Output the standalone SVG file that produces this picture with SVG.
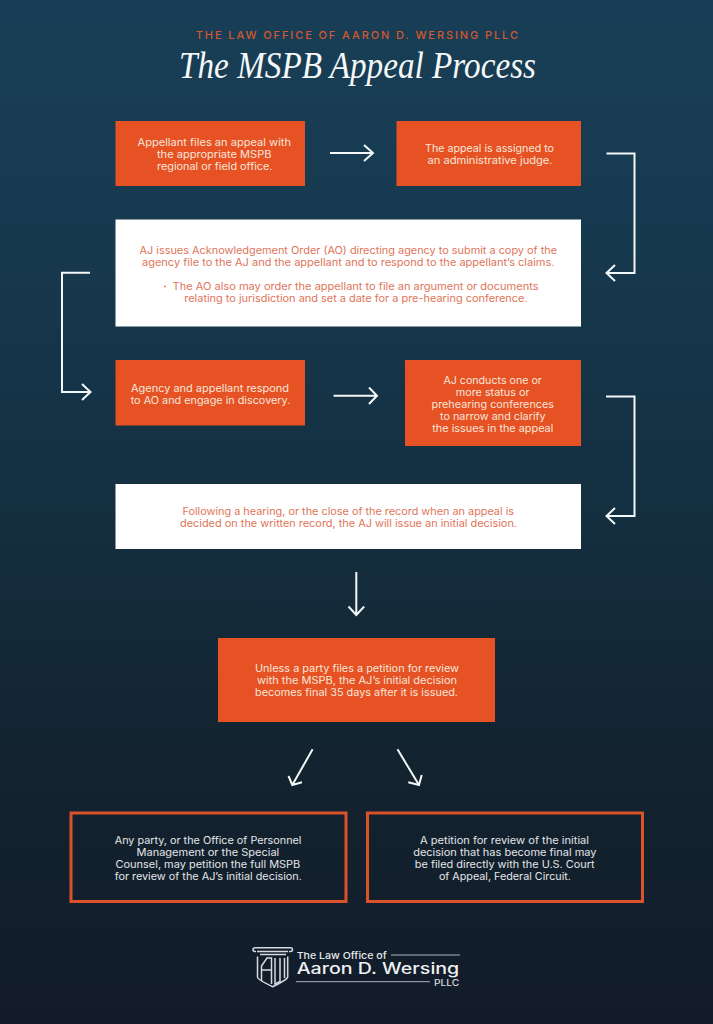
<svg xmlns="http://www.w3.org/2000/svg" width="713" height="1024" viewBox="0 0 713 1024">
<style>
text{font-family:"Inter","Liberation Sans",sans-serif;font-size:10.4px}
.l{fill:#f7e6dc}.o{fill:#e0745a}.d{fill:#e3e6e8}
.or{fill:#e65223}.wh{fill:#fff}.ol{fill:none;stroke:#d9522a;stroke-width:3}
.c{fill:none;stroke:#f4f7f8;stroke-width:2}
.g{fill:none;stroke:#d5dade;stroke-width:1.5}
</style>
<defs>
<linearGradient id="bg" x1="0" y1="0" x2="0" y2="1">
<stop offset="0" stop-color="#183f57"/><stop offset=".2" stop-color="#173a50"/><stop offset=".5" stop-color="#142f40"/><stop offset=".75" stop-color="#13232f"/><stop offset="1" stop-color="#121b29"/>
</linearGradient>
</defs>
<rect width="713" height="1024" fill="url(#bg)"/>
<g id="header">
<text x="195.7" y="38.5" textLength="322.3" lengthAdjust="spacing" style="font-size:11px;font-weight:500;fill:#d4572f">THE LAW OFFICE OF AARON D. WERSING PLLC</text>
<text x="179" y="77.5" textLength="357" lengthAdjust="spacingAndGlyphs" style="font-family:'Liberation Serif',serif;font-style:italic;font-size:37px;fill:#f6f8f8">The MSPB Appeal Process</text>
</g>
<g id="connectors">
<path class="c" d="M330 153H373M364 145L373 153L364 161"/>
<path class="c" d="M606.5 153.5H634.5V273H606.5M615 265L606.5 273L615 281"/>
<path class="c" d="M90 272.7H62V392H90.5M82 384L90.5 392L82 400"/>
<path class="c" d="M333.6 395.7H377M369 387.5L377 395.7L369 404"/>
<path class="c" d="M606 396.5H634.5V516H606.5M615 508L606.5 516L615 524"/>
<path class="c" d="M356.3 572V615M348.5 606.5L356.3 615L364.2 606.5"/>
<path class="c" d="M312.6 749.3L292.3 785M288.5 776L292.3 785L302 782.3"/>
<path class="c" d="M397.5 749.3L419 785M408.3 782.3L419 785L421.7 775"/>
</g>
<g id="n1"><rect class="or" x="115.5" y="121" width="189.5" height="65"/>
<text class="l" x="137.5" y="146" textLength="153.5" lengthAdjust="spacingAndGlyphs">Appellant files an appeal with</text>
<text class="l" x="157" y="158" textLength="114.5" lengthAdjust="spacingAndGlyphs">the appropriate MSPB</text>
<text class="l" x="157" y="170" textLength="115.5" lengthAdjust="spacingAndGlyphs">regional or field office.</text></g>
<g id="n2"><rect class="or" x="396.5" y="121" width="184.5" height="65"/>
<text class="l" x="425" y="152" textLength="129" lengthAdjust="spacingAndGlyphs">The appeal is assigned to</text>
<text class="l" x="427.5" y="164" textLength="125" lengthAdjust="spacingAndGlyphs">an administrative judge.</text></g>
<g id="n3"><rect class="wh" x="115.5" y="219.5" width="465.5" height="107"/>
<text class="o" x="139.5" y="254" textLength="417.5" lengthAdjust="spacingAndGlyphs">AJ issues Acknowledgement Order (AO) directing agency to submit a copy of the</text>
<text class="o" x="142" y="266" textLength="412.5" lengthAdjust="spacingAndGlyphs">agency file to the AJ and the appellant and to respond to the appellant’s claims.</text>
<circle cx="165" cy="286.5" r="0.9" fill="#e0745a"/>
<text class="o" x="172.5" y="290" textLength="366" lengthAdjust="spacingAndGlyphs">The AO also may order the appellant to file an argument or documents</text>
<text class="o" x="184.3" y="302" textLength="343.3" lengthAdjust="spacingAndGlyphs">relating to jurisdiction and set a date for a pre-hearing conference.</text></g>
<g id="n4"><rect class="or" x="115.5" y="360" width="189.5" height="65.5"/>
<text class="l" x="131" y="392" textLength="158" lengthAdjust="spacingAndGlyphs">Agency and appellant respond</text>
<text class="l" x="130.7" y="404" textLength="159.6" lengthAdjust="spacingAndGlyphs">to AO and engage in discovery.</text></g>
<g id="n5"><rect class="or" x="405" y="360" width="176" height="86"/>
<text class="l" x="443.4" y="383.5" textLength="98.4" lengthAdjust="spacingAndGlyphs">AJ conducts one or</text>
<text class="l" x="455.7" y="395.5" textLength="73.8" lengthAdjust="spacingAndGlyphs">more status or</text>
<text class="l" x="431.5" y="407.5" textLength="122.5" lengthAdjust="spacingAndGlyphs">prehearing conferences</text>
<text class="l" x="440" y="419.5" textLength="105.6" lengthAdjust="spacingAndGlyphs">to narrow and clarify</text>
<text class="l" x="432.3" y="431.5" textLength="121" lengthAdjust="spacingAndGlyphs">the issues in the appeal</text></g>
<g id="n6"><rect class="wh" x="115.5" y="484" width="465.5" height="65"/>
<text class="o" x="182.5" y="515.3" textLength="331.5" lengthAdjust="spacingAndGlyphs">Following a hearing, or the close of the record when an appeal is</text>
<text class="o" x="180" y="527.3" textLength="337" lengthAdjust="spacingAndGlyphs">decided on the written record, the AJ will issue an initial decision.</text></g>
<g id="n7"><rect class="or" x="218" y="638" width="277" height="84"/>
<text class="l" x="255" y="672" textLength="204" lengthAdjust="spacingAndGlyphs">Unless a party files a petition for review</text>
<text class="l" x="257" y="684" textLength="200" lengthAdjust="spacingAndGlyphs">with the MSPB, the AJ’s initial decision</text>
<text class="l" x="255" y="696" textLength="203" lengthAdjust="spacingAndGlyphs">becomes final 35 days after it is issued.</text></g>
<g id="n8"><rect class="ol" x="71" y="813" width="275" height="88.5"/>
<text class="d" x="114.7" y="843.5" textLength="186.8" lengthAdjust="spacingAndGlyphs">Any party, or the Office of Personnel</text>
<text class="d" x="136.5" y="855.5" textLength="142.8" lengthAdjust="spacingAndGlyphs">Management or the Special</text>
<text class="d" x="115.5" y="867.5" textLength="184.8" lengthAdjust="spacingAndGlyphs">Counsel, may petition the full MSPB</text>
<text class="d" x="114.7" y="879.5" textLength="187.2" lengthAdjust="spacingAndGlyphs">for review of the AJ’s initial decision.</text></g>
<g id="n9"><rect class="ol" x="367.5" y="813" width="275" height="88.5"/>
<text class="d" x="420" y="843.5" textLength="169" lengthAdjust="spacingAndGlyphs">A petition for review of the initial</text>
<text class="d" x="413.2" y="855.5" textLength="183.3" lengthAdjust="spacingAndGlyphs">decision that has become final may</text>
<text class="d" x="414.8" y="867.5" textLength="179.8" lengthAdjust="spacingAndGlyphs">be filed directly with the U.S. Court</text>
<text class="d" x="438.9" y="879.5" textLength="132" lengthAdjust="spacingAndGlyphs">of Appeal, Federal Circuit.</text></g>
<g id="logo">
<path class="g" d="M256 951.5H255Q253 951.5 253 949.5Q253 947.7 255 947.7H290.5Q292.5 947.7 292.5 949.5Q292.5 951.5 290.5 951.5H289M257 951.5H288M260 954.5H286"/>
<path class="g" d="M257.5 956.5V977Q258 980 272.7 986.7Q287 980 287.7 977V956.5"/>
<path class="g" d="M261.5 981V966L267 958H271.5V984M261.5 970H271M275 958V984L280 981.5V958M284.5 958V978"/>
<text x="296.7" y="958.5" textLength="90" lengthAdjust="spacingAndGlyphs" style="font-size:9.6px;font-weight:500;fill:#e6e9eb">The Law Office of</text>
<path d="M391 955H460" stroke="#aab3ba" stroke-width="1"/>
<text x="296.7" y="973.5" textLength="162.6" lengthAdjust="spacingAndGlyphs" style="font-size:15.5px;font-weight:500;fill:#eef0f2">Aaron D. Wersing</text>
<path d="M296 981.7H430" stroke="#aab3ba" stroke-width="1"/>
<text x="434" y="986" textLength="25.3" lengthAdjust="spacingAndGlyphs" style="font-size:8.5px;font-weight:500;fill:#d5dade">PLLC</text>
</g>
</svg>
